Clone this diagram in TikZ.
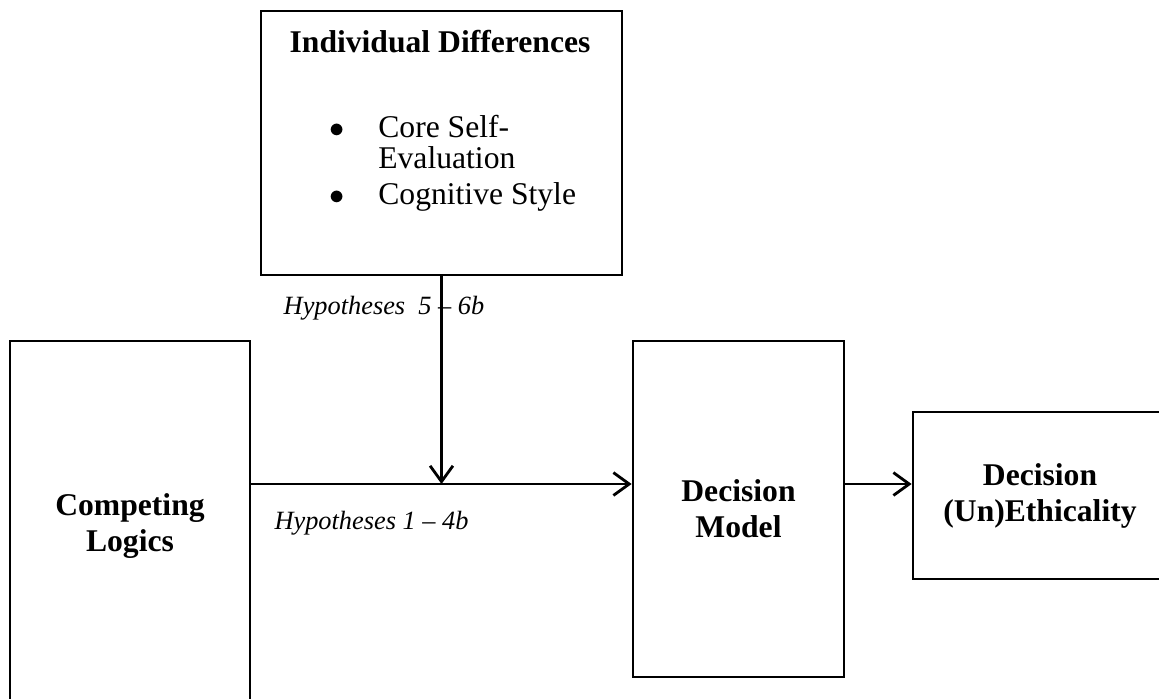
\documentclass[tikz,border=0pt]{standalone}
\usepackage{fontspec}
\setmainfont{Liberation Serif}
\usetikzlibrary{arrows.meta}

\begin{document}
\begin{tikzpicture}[x=0.02cm, y=-0.02cm,
  box/.style = {draw, line width=1.6pt, align=center, inner sep=0pt,
    font=\fontsize{18}{20.5}\selectfont\bfseries},
  body/.style = {font=\fontsize{18}{20.5}\selectfont, inner sep=0pt},
  hyp/.style = {font=\fontsize{15}{18}\selectfont\itshape, inner sep=0pt},
  link/.style = {line width=1.6pt, -{Straight Barb[length=9pt,width=13pt,line width=1.6pt]}}]
\useasboundingbox (0,0) rectangle (1159,698);
\node[box, minimum width=7.22cm, minimum height=5.28cm] (id) at (441.5,143) {};
\node[box, minimum width=4.8cm, minimum height=7.4cm] (cl) at (130,526) {Competing\\Logics};
\node[box, minimum width=4.22cm, minimum height=6.72cm] (dm) at (738.5,509) {Decision\\Model};
\node[box, minimum width=5.08cm, minimum height=3.34cm] (due) at (1040,495.5) {Decision\\(Un)Ethicality};
\node[body, font=\fontsize{18}{20.5}\selectfont\bfseries, anchor=base] (title) at (440,52) {Individual Differences};
\node[body, anchor=base] (bul1) at (337,137) {$\bullet$};
\node[body, anchor=base west] (core) at (378,137) {Core Self-};
\node[body, anchor=base west] (evalu) at (378,168) {Evaluation};
\node[body, anchor=base] (bul2) at (337,204) {$\bullet$};
\node[body, anchor=base west] (cogn) at (378,204) {Cognitive Style};
\node[hyp] (hyp56) at (384,308) {Hypotheses\ \ 5 – 6b};
\node[hyp] (hyp14) at (371.5,523) {Hypotheses 1 – 4b};
\coordinate (join) at (441.5,484);
\draw[link] (id.south) -- (join);
\draw[link] (cl.east |- join) -- (dm.west |- join);
\draw[link] (dm.east |- join) -- (due.west |- join);
\end{tikzpicture}
\end{document}
